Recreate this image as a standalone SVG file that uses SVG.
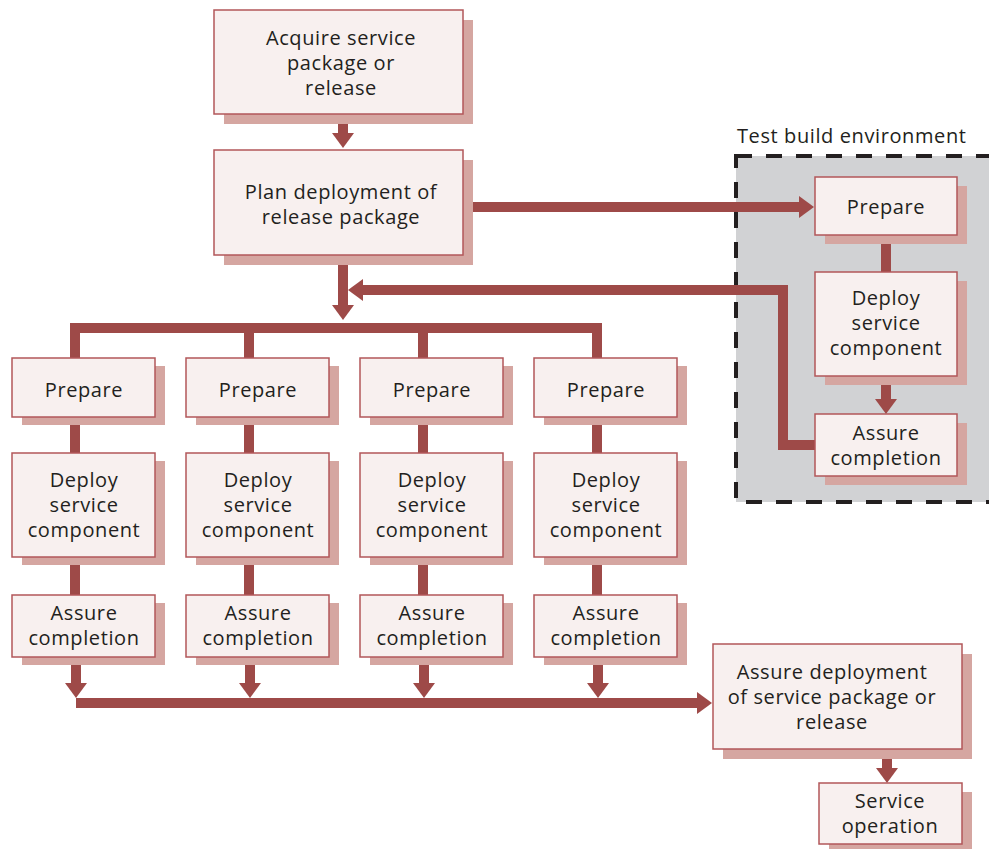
<svg xmlns="http://www.w3.org/2000/svg" width="989" height="849" viewBox="0 0 989 849">
<style>
.box{fill:#f8f0ef;stroke:#b2575a;stroke-width:1.5}
.sh{fill:#d5a6a1}
.t{font-family:"Open Sans","Noto Sans",sans-serif;font-size:20px;letter-spacing:0.6px;fill:#231f20;text-anchor:middle}
.c{fill:none;stroke:#9e4a48;stroke-width:10;stroke-linejoin:miter}
.ca{fill:none;stroke:#9e4a48;stroke-width:10;marker-end:url(#ah)}
</style>
<defs>
<marker id="ah" markerUnits="userSpaceOnUse" markerWidth="15" markerHeight="22" refX="0" refY="11" orient="auto" viewBox="0 0 15 22">
<path d="M0,0 L15,11 L0,22 z" fill="#9e4a48"/>
</marker>
</defs>
<rect width="989" height="849" fill="#ffffff"/>
<g id="test-env">
<rect x="736" y="156" width="260" height="346" fill="#d1d2d4" stroke="#231f20" stroke-width="4" stroke-dasharray="16 14"/>
<text x="737" y="143" style="font-family:'Open Sans','Noto Sans',sans-serif;font-size:20px;letter-spacing:0.6px;fill:#231f20">Test build environment</text>
</g>
<g id="connectors">
<path class="ca" d="M343,124 V133"/>
<path class="ca" d="M473,207 H799"/>
<path class="ca" d="M343,265 V305"/>
<path class="ca" d="M815,445 H783 V290 H363"/>
<path class="c" d="M75,358 V328 H597 V358 M249,328 V358 M423,328 V358"/>
<path class="c" d="M75,425 V453 M249,425 V453 M423,425 V453 M597,425 V453"/>
<path class="c" d="M75,565 V595 M249,565 V595 M423,565 V595 M597,565 V595"/>
<path class="ca" d="M76,665 V683"/>
<path class="ca" d="M250,665 V683"/>
<path class="ca" d="M424,665 V683"/>
<path class="ca" d="M598,665 V683"/>
<path class="ca" d="M76,703 H697"/>
<path class="c" d="M886,243 V272"/>
<path class="ca" d="M886,384 V399"/>
<path class="ca" d="M887,759 V768"/>
</g>
<g id="acquire">
<rect class="sh" x="224" y="20" width="249" height="104"/>
<rect class="box" x="214" y="10" width="249" height="104"/>
<text class="t" x="341" y="45">Acquire service</text>
<text class="t" x="341" y="70">package or</text>
<text class="t" x="341" y="95">release</text>
</g>
<g id="plan">
<rect class="sh" x="224" y="160" width="249" height="105"/>
<rect class="box" x="214" y="150" width="249" height="105"/>
<text class="t" x="341" y="199">Plan deployment of</text>
<text class="t" x="341" y="224">release package</text>
</g>
<g id="test-prepare">
<rect class="sh" x="825" y="186" width="142" height="58"/>
<rect class="box" x="815" y="177" width="142" height="58"/>
<text class="t" x="886" y="214">Prepare</text>
</g>
<g id="test-deploy">
<rect class="sh" x="825" y="281" width="142" height="104"/>
<rect class="box" x="815" y="272" width="142" height="104"/>
<text class="t" x="886" y="305">Deploy</text>
<text class="t" x="886" y="330">service</text>
<text class="t" x="886" y="355">component</text>
</g>
<g id="test-assure">
<rect class="sh" x="825" y="423" width="142" height="62"/>
<rect class="box" x="815" y="414" width="142" height="62"/>
<text class="t" x="886" y="440">Assure</text>
<text class="t" x="886" y="465">completion</text>
</g>
<g id="col1">
<rect class="sh" x="22" y="366" width="143" height="59"/>
<rect class="box" x="12" y="358" width="143" height="59"/>
<text class="t" x="84" y="397">Prepare</text>
<rect class="sh" x="22" y="461" width="143" height="104"/>
<rect class="box" x="12" y="453" width="143" height="104"/>
<text class="t" x="84" y="487">Deploy</text>
<text class="t" x="84" y="512">service</text>
<text class="t" x="84" y="537">component</text>
<rect class="sh" x="22" y="603" width="143" height="62"/>
<rect class="box" x="12" y="595" width="143" height="62"/>
<text class="t" x="84" y="620">Assure</text>
<text class="t" x="84" y="645">completion</text>
</g>
<g id="col2">
<rect class="sh" x="196" y="366" width="143" height="59"/>
<rect class="box" x="186" y="358" width="143" height="59"/>
<text class="t" x="258" y="397">Prepare</text>
<rect class="sh" x="196" y="461" width="143" height="104"/>
<rect class="box" x="186" y="453" width="143" height="104"/>
<text class="t" x="258" y="487">Deploy</text>
<text class="t" x="258" y="512">service</text>
<text class="t" x="258" y="537">component</text>
<rect class="sh" x="196" y="603" width="143" height="62"/>
<rect class="box" x="186" y="595" width="143" height="62"/>
<text class="t" x="258" y="620">Assure</text>
<text class="t" x="258" y="645">completion</text>
</g>
<g id="col3">
<rect class="sh" x="370" y="366" width="143" height="59"/>
<rect class="box" x="360" y="358" width="143" height="59"/>
<text class="t" x="432" y="397">Prepare</text>
<rect class="sh" x="370" y="461" width="143" height="104"/>
<rect class="box" x="360" y="453" width="143" height="104"/>
<text class="t" x="432" y="487">Deploy</text>
<text class="t" x="432" y="512">service</text>
<text class="t" x="432" y="537">component</text>
<rect class="sh" x="370" y="603" width="143" height="62"/>
<rect class="box" x="360" y="595" width="143" height="62"/>
<text class="t" x="432" y="620">Assure</text>
<text class="t" x="432" y="645">completion</text>
</g>
<g id="col4">
<rect class="sh" x="544" y="366" width="143" height="59"/>
<rect class="box" x="534" y="358" width="143" height="59"/>
<text class="t" x="606" y="397">Prepare</text>
<rect class="sh" x="544" y="461" width="143" height="104"/>
<rect class="box" x="534" y="453" width="143" height="104"/>
<text class="t" x="606" y="487">Deploy</text>
<text class="t" x="606" y="512">service</text>
<text class="t" x="606" y="537">component</text>
<rect class="sh" x="544" y="603" width="143" height="62"/>
<rect class="box" x="534" y="595" width="143" height="62"/>
<text class="t" x="606" y="620">Assure</text>
<text class="t" x="606" y="645">completion</text>
</g>
<g id="assure-deployment">
<rect class="sh" x="723" y="654" width="249" height="105"/>
<rect class="box" x="713" y="644" width="249" height="105"/>
<text class="t" x="832" y="679">Assure deployment</text>
<text class="t" x="832" y="704">of service package or</text>
<text class="t" x="832" y="729">release</text>
</g>
<g id="service-operation">
<rect class="sh" x="829" y="792" width="143" height="60"/>
<rect class="box" x="819" y="783" width="143" height="61"/>
<text class="t" x="890" y="808">Service</text>
<text class="t" x="890" y="833">operation</text>
</g>
</svg>
